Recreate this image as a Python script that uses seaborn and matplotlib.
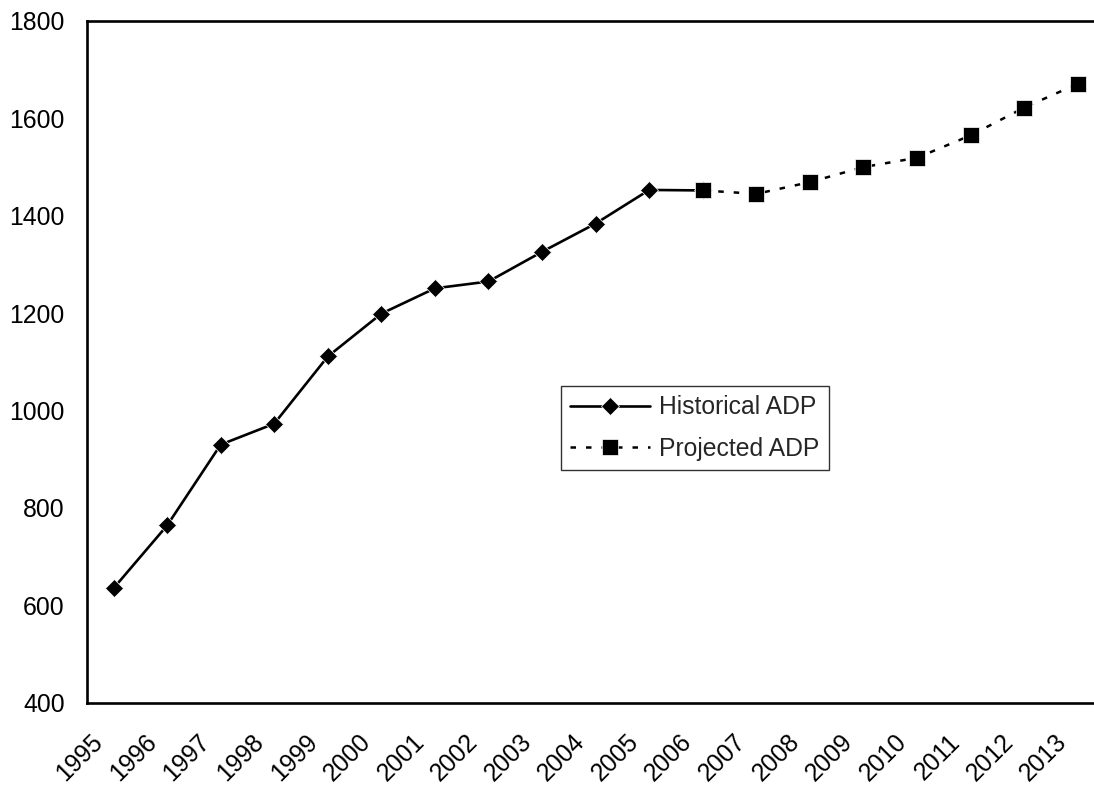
import numpy as np
import pandas as pd
import seaborn as sns
import matplotlib.pyplot as plt
from matplotlib.transforms import ScaledTranslation

# values
years = list(range(1995, 2014))
hist_years = list(range(1995, 2007))
hist_adp = [635, 764, 930, 973, 1111, 1199, 1251, 1265, 1326, 1384, 1453, 1452]
proj_years = list(range(2006, 2014))
proj_adp = [1452, 1445, 1469, 1500, 1519, 1565, 1622, 1671]

sns.set_style("white")
plt.rcParams["font.family"] = ["Liberation Sans", "DejaVu Sans"]

hist = pd.DataFrame({"pos": [y - years[0] + 0.5 for y in hist_years], "ADP": hist_adp})
proj = pd.DataFrame({"pos": [y - years[0] + 0.5 for y in proj_years], "ADP": proj_adp})

fig = plt.figure(figsize=(10.94, 7.88), dpi=100)
# plot area runs a little past the right edge, like the cropped original
ax = fig.add_axes([0.0793, 0.1082, 0.9303, 0.8652])

sns.lineplot(data=hist, x="pos", y="ADP", ax=ax, color="black", linewidth=1.9,
             marker="D", markersize=9.5, markeredgewidth=0.5, label="Historical ADP")
sns.lineplot(data=proj, x="pos", y="ADP", ax=ax, color="black", linewidth=1.8,
             linestyle=(0, (2.2, 4)), marker="s", markersize=11.5, markeredgewidth=0.5,
             label="Projected ADP")

ax.set_xlim(0, len(years))
ax.set_ylim(400, 1800)
ax.set_yticks(range(400, 1801, 200))
ax.set_xticks(range(len(years)))
ax.set_xticklabels([str(y) for y in years], rotation=45, ha="right", va="center",
                   rotation_mode="anchor")
ax.set_xlabel("")
ax.set_ylabel("")

for s in ax.spines.values():
    s.set_linewidth(1.9)
    s.set_color("black")

ax.tick_params(axis="both", direction="out", length=6, width=1.1, color="#555555",
               labelsize=17.8, labelcolor="black")
ax.tick_params(axis="x", pad=19.5)
ax.tick_params(axis="y", pad=9, length=7)

offset = ScaledTranslation(0.124, 0, fig.dpi_scale_trans)
for lbl in ax.get_xticklabels():
    lbl.set_transform(lbl.get_transform() + offset)

leg = ax.legend(loc="upper left", bbox_to_anchor=(0.466, 0.4646), borderaxespad=0,
                fontsize=17.8, frameon=True, fancybox=False, edgecolor="black",
                handlelength=3.2, handletextpad=0.4, labelspacing=0.7, borderpad=0.38)
leg.get_frame().set_linewidth(1.0)

fig.savefig("out.png", dpi=100)
